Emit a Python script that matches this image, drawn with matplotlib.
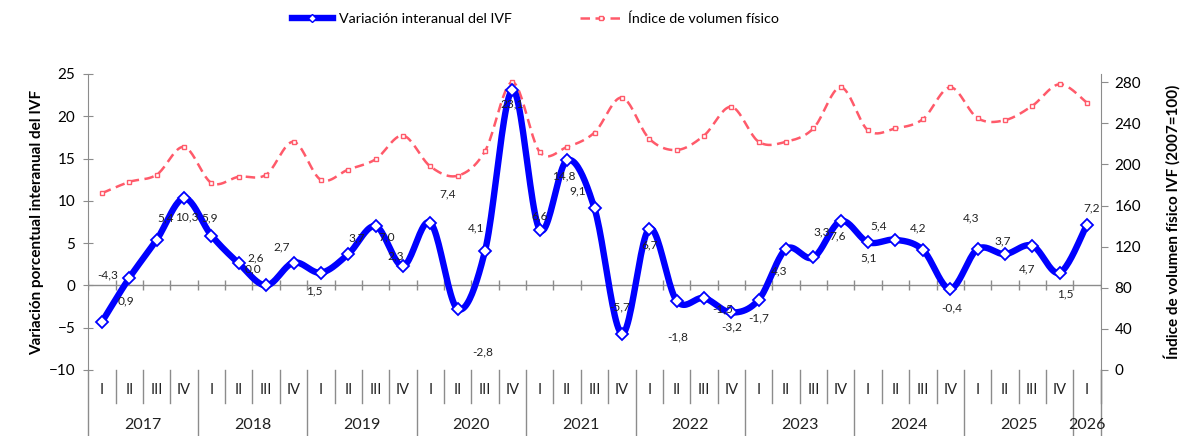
import numpy as np
import matplotlib
matplotlib.use("Agg")
import matplotlib.pyplot as plt
from matplotlib.lines import Line2D
from matplotlib.transforms import blended_transform_factory

plt.rcParams['font.family'] = ['Lato', 'DejaVu Sans']

years = ['2017', '2018', '2019', '2020', '2021', '2022', '2023', '2024', '2025', '2026']
quarters = ['I', 'II', 'III', 'IV'] * 9 + ['I']

variacion = [-4.3, 0.9, 5.4, 10.3, 5.9, 2.6, 0.0, 2.7, 1.5, 3.7, 7.0, 2.3,
             7.4, -2.8, 4.1, 23.1, 6.6, 14.8, 9.1, -5.7, 6.7, -1.8, -1.5, -3.2,
             -1.7, 4.3, 3.3, 7.6, 5.1, 5.4, 4.2, -0.4, 4.3, 3.7, 4.7, 1.5, 7.2]

indice = [172, 183, 190, 217, 182, 188, 190, 222, 185, 195, 205, 228,
          198, 189, 213, 280, 212, 217, 231, 265, 225, 214, 228, 256,
          222, 222, 235, 275, 233, 235, 244, 275, 245, 243, 257, 278, 260]

# label offsets in pixels (dx right, dy down) relative to each point
lbl_dx = [6, -3, 9, 3, -2, 17, -13, -12, -7, 8, 11, -7,
          17, 25, -9, 0, 0, -3, -17, -2, 0, 1, 19, 0,
          0, -7, 8, -3, 0, -17, -5, 2, -6, -2, -5, 6, 5]
lbl_dy = [-47, 23, -22, 19, -18, -5, -16, -16, 18, -16, 11, -10,
          -29, 43, -23, 14, -14, 16, -18, -27, 16, 36, 11, 14,
          18, 22, -26, 15, 16, -14, -22, 19, -31, -13, 23, 21, -17]


def smooth(x, y, n=24):
    # bezier smoothing through every point, like a spreadsheet smoothed line
    x = np.asarray(x, float)
    y = np.asarray(y, float)
    px = np.concatenate([[x[0]], x, [x[-1]]])
    py = np.concatenate([[y[0]], y, [y[-1]]])
    t = np.linspace(0, 1, n)[:, None]
    xs, ys = [], []
    for i in range(1, len(px) - 2):
        p0 = np.array([px[i], py[i]])
        p3 = np.array([px[i + 1], py[i + 1]])
        c1 = p0 + (np.array([px[i + 1], py[i + 1]]) - np.array([px[i - 1], py[i - 1]])) / 6
        c2 = p3 - (np.array([px[i + 2], py[i + 2]]) - np.array([px[i], py[i]])) / 6
        b = ((1 - t) ** 3) * p0 + 3 * ((1 - t) ** 2) * t * c1 + 3 * (1 - t) * t ** 2 * c2 + t ** 3 * p3
        xs.append(b[:, 0])
        ys.append(b[:, 1])
    return np.concatenate(xs), np.concatenate(ys)


blue = '#0000FF'
pink = '#FF5A6A'
grey = '#8C8C8C'

fig = plt.figure(figsize=(11.92, 4.36), dpi=100)
ax = fig.add_axes([0.0741, 0.1514, 0.8493, 0.679])
ax2 = ax.twinx()
ax.set_zorder(ax2.get_zorder() + 1)
ax.patch.set_visible(False)

x = np.arange(len(variacion))

# index line (right axis)
sx, sy = smooth(x, indice)
ax2.plot(sx, sy, color=pink, lw=1.8, ls=(0, (3.8, 2.2)))
ax2.plot(x, indice, ls='none', marker='s', ms=3.2, mfc='white', mec=pink, mew=1.0)

# variation line (left axis)
sx, sy = smooth(x, variacion)
ax.plot(sx, sy, color=blue, lw=4.6, solid_capstyle='round')
ax.plot(x, variacion, ls='none', marker='D', ms=6, mfc='white', mec=blue, mew=1.3)

for i, v in enumerate(variacion):
    ax.annotate(f"{v:.1f}".replace('.', ','), (x[i], v),
                xytext=(lbl_dx[i] * 0.72, -lbl_dy[i] * 0.72), textcoords='offset points',
                ha='center', va='center', fontsize=8.6, color='#222222')

ax.set_xlim(-0.5, len(x) - 0.5)
ax.set_ylim(-10, 25)
ax2.set_ylim(0, 288)
ax.set_yticks(np.arange(-10, 26, 5))
ax2.set_yticks(np.arange(0, 281, 40))

for a in (ax, ax2):
    for s in ('top', 'bottom'):
        a.spines[s].set_visible(False)
    a.spines['left'].set_color(grey)
    a.spines['right'].set_color(grey)
    a.set_xticks([])
ax.spines['right'].set_visible(False)
ax2.spines['left'].set_visible(False)

ax.tick_params(axis='y', direction='inout', length=7, color=grey, labelsize=11, pad=6)
ax2.tick_params(axis='y', direction='out', length=5, color=grey, labelsize=11, pad=5)

# zero line with category ticks
ax.axhline(0, color=grey, lw=1.0, zorder=1)
bounds = np.arange(-0.5, len(x), 1.0)
ax.vlines(bounds, -0.6, 0.6, color=grey, lw=1.0, zorder=1)

# two-level category axis under the plot
tr = blended_transform_factory(ax.transData, ax.transAxes)
for i, q in enumerate(quarters):
    ax.text(x[i], -0.068, q, transform=tr, ha='center', va='center', fontsize=10.5, color='#222222')
for b in bounds[1:]:
    year_edge = (b + 0.5) % 4 == 0
    ax.plot([b, b], [0, -0.225 if year_edge else -0.11], transform=tr, color=grey,
            lw=1.0, clip_on=False)
ax.plot([len(x) - 0.5] * 2, [0, -0.225], transform=tr, color=grey, lw=1.0, clip_on=False)
ax.plot([-0.5, -0.5], [0, -0.225], transform=tr, color=grey, lw=1.0, clip_on=False)
for k, yr in enumerate(years):
    xc = 4 * k + 1.5 if k < len(years) - 1 else 4 * k
    ax.text(xc, -0.186, yr, transform=tr, ha='center', va='center', fontsize=11.5, color='#222222')

ax.set_ylabel("Variación porcentual interanual del IVF", fontsize=11, fontweight='bold', labelpad=3)
ax2.set_ylabel("Índice de volumen físico IVF (2007=100)", fontsize=11, fontweight='bold', labelpad=16)

handles = [Line2D([], [], color=blue, lw=4.6, marker='D', ms=4, mfc='white', mec=blue, mew=1),
           Line2D([], [], color=pink, lw=1.8, ls=(0, (3.8, 2.2)), marker='s', ms=3, mfc='white', mec=pink)]
fig.legend(handles, ["Variación interanual del IVF", "Índice de volumen físico"],
           loc='center', bbox_to_anchor=(0.449, 0.958), ncol=2, frameon=False,
           fontsize=10.3, handlelength=2.9, columnspacing=4.8, handletextpad=0.4)

fig.savefig("out.png", dpi=100)
